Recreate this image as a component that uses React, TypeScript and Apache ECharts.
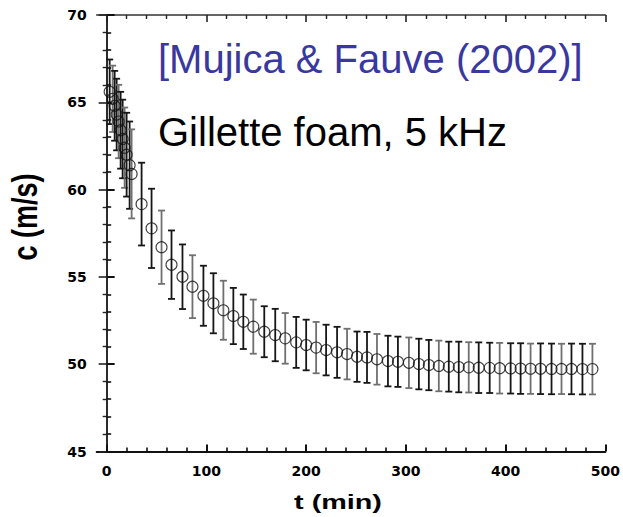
import React, { useEffect, useRef } from "react";
import * as echarts from "echarts";

// Sound speed in Gillette foam at 5 kHz versus foam age
const timesMin = [
  3, 6, 8, 10, 12, 14, 16, 18, 20, 23, 25,
  35, 45, 55, 65, 76, 86, 97, 107, 117, 127, 137, 147, 158, 169, 179, 190,
  200, 210, 220, 231, 241, 251, 261, 271, 282, 292, 303, 313, 323, 333, 343,
  353, 363, 373, 384, 394, 405, 415, 425, 435, 446, 456, 466, 477, 487,
];
const speedMs = [
  65.6, 65.2, 64.8, 64.3, 63.9, 63.4, 62.9, 62.4, 62.0, 61.4, 60.9,
  59.17, 57.78, 56.7, 55.7, 55.01, 54.44, 53.92, 53.49, 53.09, 52.76, 52.43,
  52.15, 51.86, 51.67, 51.48, 51.25, 51.1, 50.95, 50.81, 50.68, 50.58, 50.43,
  50.39, 50.28, 50.18, 50.14, 50.08, 50.01, 49.95, 49.9, 49.86, 49.84, 49.82,
  49.8, 49.79, 49.77, 49.76, 49.75, 49.74, 49.74, 49.73, 49.73, 49.73, 49.72,
  49.72,
];
const speedErr = [
  1.85, 1.9, 2.0, 2.05, 2.1, 2.2, 2.25, 2.3, 2.4, 2.5, 2.55,
  2.37, 2.27, 2.1, 1.96, 1.85, 1.8, 1.72, 1.72, 1.69, 1.61, 1.56,
  1.55, 1.46, 1.5, 1.45, 1.46, 1.45, 1.47, 1.45, 1.46, 1.45, 1.44,
  1.46, 1.45, 1.45, 1.44, 1.45, 1.45, 1.44, 1.45, 1.43, 1.45, 1.44,
  1.45, 1.44, 1.45, 1.44, 1.45, 1.44, 1.45, 1.45, 1.44, 1.45, 1.45,
  1.45,
];

const xMajorTicks = [0, 100, 200, 300, 400, 500];
const xMinorStep = 20;
const yRange = [45, 70];
const yStep = 5;

const AXIS_FONT = '"DejaVu Sans", Arial, sans-serif';
const TEXT_FONT = '"Liberation Sans", Arial, sans-serif';

export default function App() {
  const ref = useRef<HTMLDivElement>(null);

  useEffect(() => {
    if (!ref.current) return;
    const chart = echarts.init(ref.current, undefined, { renderer: "svg" });

    const xMinorTicks: number[] = [];
    for (let v = 0; v <= 500; v += xMinorStep) {
      if (!xMajorTicks.includes(v)) xMinorTicks.push(v);
    }

    const frameLine = { show: true, lineStyle: { color: "#111", width: 2 } };
    const frameLineLight = { show: true, lineStyle: { color: "#333", width: 1.6 } };

    const xBase = {
      type: "value" as const,
      min: -10,
      max: 500,
      splitLine: { show: false },
    };

    const yBase = {
      type: "value" as const,
      min: yRange[0],
      max: yRange[1],
      interval: yStep,
      splitLine: { show: false },
      minorSplitLine: { show: false },
    };

    const errData = timesMin.map((t, i) => [t, speedMs[i] - speedErr[i], speedMs[i] + speedErr[i]]);
    const ptData = timesMin.map((t, i) => [t, speedMs[i]]);

    chart.setOption({
      animation: false,
      grid: { left: 96.7, right: 16.3, top: 15, bottom: 65.5 },
      xAxis: [
        {
          ...xBase,
          position: "bottom",
          axisLine: frameLine,
          axisTick: { show: true, inside: true, length: 7, customValues: xMajorTicks, lineStyle: { color: "#111", width: 2 } },
          axisLabel: {
            show: true,
            customValues: xMajorTicks,
            margin: 12,
            color: "#000",
            fontFamily: AXIS_FONT,
            fontWeight: "bold",
            fontSize: 14,
          },
        },
        {
          ...xBase,
          position: "bottom",
          axisLine: { show: false },
          axisTick: { show: true, inside: true, length: 4, customValues: xMinorTicks, lineStyle: { color: "#111", width: 1.6 } },
          axisLabel: { show: false },
        },
        {
          ...xBase,
          position: "top",
          axisLine: frameLineLight,
          axisTick: { show: true, inside: true, length: 7, customValues: xMajorTicks, lineStyle: { color: "#222", width: 1.6 } },
          axisLabel: { show: false },
        },
        {
          ...xBase,
          position: "top",
          axisLine: { show: false },
          axisTick: { show: true, inside: true, length: 4, customValues: xMinorTicks, lineStyle: { color: "#222", width: 1.4 } },
          axisLabel: { show: false },
        },
      ],
      yAxis: [
        {
          ...yBase,
          position: "left",
          axisLine: frameLine,
          axisTick: { show: true, inside: true, length: 8, lineStyle: { color: "#111", width: 2 } },
          minorTick: { show: true, splitNumber: 5, length: 4.5, lineStyle: { color: "#111", width: 1.6 } },
          axisLabel: {
            show: true,
            margin: 10,
            color: "#000",
            fontFamily: AXIS_FONT,
            fontWeight: "bold",
            fontSize: 14,
          },
        },
        {
          ...yBase,
          position: "right",
          axisLine: frameLineLight,
          axisTick: { show: true, inside: true, length: 8, lineStyle: { color: "#222", width: 1.6 } },
          minorTick: { show: true, splitNumber: 5, length: 4, lineStyle: { color: "#222", width: 1.4 } },
          axisLabel: { show: false },
        },
      ],
      series: [
        {
          type: "custom",
          name: "error",
          xAxisIndex: 0,
          yAxisIndex: 0,
          data: errData,
          encode: { x: 0, y: [1, 2] },
          renderItem: (params: any, api: any) => {
            const t = api.value(0);
            const lo = api.coord([t, api.value(1)]);
            const hi = api.coord([t, api.value(2)]);
            const cap = 3.5;
            const stroke = params.dataIndex % 3 === 1 ? "#707070" : "#161616";
            const style = { stroke, lineWidth: 1.8 };
            return {
              type: "group",
              children: [
                { type: "line", shape: { x1: hi[0], y1: hi[1], x2: lo[0], y2: lo[1] }, style },
                { type: "line", shape: { x1: hi[0] - cap, y1: hi[1], x2: hi[0] + cap, y2: hi[1] }, style },
                { type: "line", shape: { x1: lo[0] - cap, y1: lo[1], x2: lo[0] + cap, y2: lo[1] }, style },
              ],
            };
          },
        },
        {
          type: "scatter",
          name: "c",
          xAxisIndex: 0,
          yAxisIndex: 0,
          data: ptData,
          symbol: "circle",
          symbolSize: 11,
          itemStyle: { color: "rgba(0,0,0,0)", borderColor: "#111", borderWidth: 1.1 },
        },
      ],
      graphic: [
        {
          type: "text",
          x: 25,
          y: 217,
          rotation: Math.PI / 2,
          scaleY: 1.3,
          style: {
            text: "c (m/s)",
            fontFamily: TEXT_FONT,
            fontWeight: "bold",
            fontSize: 27,
            fill: "#000",
            align: "center",
            verticalAlign: "middle",
          },
        },
        {
          type: "text",
          x: 338,
          y: 501,
          scaleX: 1.37,
          style: {
            text: "t (min)",
            fontFamily: TEXT_FONT,
            fontWeight: "bold",
            fontSize: 21,
            fill: "#000",
            align: "center",
            verticalAlign: "middle",
          },
        },
        {
          type: "text",
          x: 158,
          y: 59,
          style: {
            text: "[Mujica & Fauve (2002)]",
            fontFamily: TEXT_FONT,
            fontSize: 40,
            fill: "#3838a0",
            align: "left",
            verticalAlign: "middle",
          },
        },
        {
          type: "text",
          x: 158,
          y: 132,
          style: {
            text: "Gillette foam, 5 kHz",
            fontFamily: TEXT_FONT,
            fontSize: 40,
            fill: "#000",
            align: "left",
            verticalAlign: "middle",
          },
        },
      ],
    });

    return () => chart.dispose();
  }, []);

  return (
    <div
      ref={ref}
      style={{ position: "fixed", left: 0, top: 0, width: 623, height: 517, background: "#fff" }}
    />
  );
}
